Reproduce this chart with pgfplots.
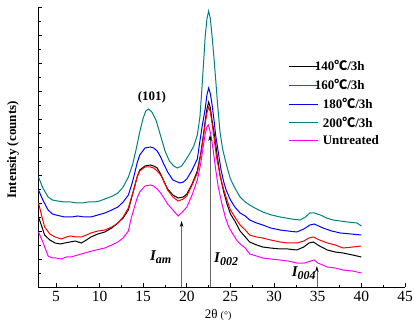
\documentclass[border=0pt]{standalone}
\usepackage{pgfplots}
\pgfplotsset{compat=1.18}
\usepackage{fontspec}
\setmainfont{Liberation Serif}
\newfontfamily\cjk{Noto Sans CJK SC}
\usetikzlibrary{arrows.meta}
\definecolor{tealc}{RGB}{0,128,128}
\definecolor{magc}{RGB}{255,0,255}

\begin{document}
\begin{tikzpicture}
\useasboundingbox (-38.5pt,-39pt) rectangle (375.5pt,287pt);
\begin{axis}[
  at={(0,0)}, anchor=south west,
  scale only axis, width=366.5pt, height=280pt,
  xmin=3, xmax=45, ymin=0, ymax=280,
  axis lines=left, axis line style={-, line width=0.9pt},
  xtick={5,10,...,45}, minor x tick num=1,
  ytick={0,28,...,280}, minor y tick num=1, yticklabels={},
  tick align=inside, major tick length=4pt, minor tick length=2.5pt,
  tick style={black, line width=0.8pt},
  /pgf/number format/assume math mode=true,
  xticklabel style={font=\fontsize{15.5}{15.5}\selectfont, yshift=-1pt},
  xlabel={2θ {\fontsize{10}{10}\selectfont(°)}},
  xlabel style={at={(axis description cs:0.49,0)}, anchor=center, yshift=-28pt, font=\fontsize{13}{13}\selectfont},
  ylabel={Intensity (counts)},
  ylabel style={at={(axis description cs:-0.0696,0.49)}, anchor=center, font=\fontsize{13}{13}\selectfont\bfseries},
  clip=false,
  legend style={at={(axis cs:31.6,228)}, anchor=north west, draw=none, fill=none,
    font=\fontsize{13}{13}\selectfont\bfseries, row sep=4pt, inner sep=0pt, nodes={inner sep=1.5pt}},
  legend cell align=left,
  legend image code/.code={\draw[#1, line width=1pt] (0pt,0pt) -- (29pt,0pt);},
  every axis plot/.append style={line width=1pt},
]
% 140 C / 3h (black)
\addplot[black] coordinates {
(3.0,70) (3.4,60) (3.7,52) (4.3,47) (4.9,44) (5.5,43) (6.0,44) (6.6,45) (7.2,46) (7.9,44) (8.5,47) (9.0,50) (9.8,53) (10.6,55) (11.4,59) (12.1,64) (12.7,69) (13.3,77) (13.6,87) (14.0,100) (14.3,110) (14.6,117) (15.2,121) (15.8,122) (16.2,121) (16.6,119) (17.0,113) (17.3,107) (17.8,98) (18.4,92) (19.0,89) (19.6,90) (20.0,93) (20.6,103) (21.2,116) (21.6,134) (21.9,152) (22.1,166) (22.3,178) (22.5,185) (22.7,179) (22.9,166) (23.2,150) (23.5,130) (23.8,112) (24.2,96) (24.6,83) (25.0,73) (25.5,66) (26.1,56) (26.7,50) (27.2,45) (28.0,42) (28.7,40) (29.6,39) (30.7,38) (31.6,38) (32.6,37) (33.4,40) (34.0,44) (34.5,45) (35.2,41) (36.1,37) (37.0,35) (37.9,34) (39.0,32) (40.0,30)};
\addlegendentry{\hspace{-5pt}140{\cjk ℃}/3h}
% 160 C / 3h (red)
\addplot[red] coordinates {
(3.0,84) (3.4,70) (3.7,60) (4.3,53) (4.9,50) (5.6,48) (6.2,50) (6.7,51) (7.3,50) (7.9,50) (8.5,52) (9.0,54) (9.8,56) (10.6,57) (11.4,60) (12.1,64) (12.7,70) (13.3,79) (13.6,88) (14.0,100) (14.3,110) (14.6,116) (15.2,120) (15.8,120) (16.2,119) (16.6,116) (17.0,112) (17.3,107) (17.8,97) (18.4,90) (19.0,86) (19.6,88) (20.0,91) (20.6,102) (21.2,114) (21.6,132) (21.9,150) (22.1,163) (22.3,174) (22.5,180) (22.7,175) (22.9,163) (23.1,150) (23.4,130) (23.8,112) (24.2,98) (24.6,87) (25.0,77) (25.5,70) (26.1,62) (26.7,57) (27.2,52) (28.0,50) (28.7,49) (29.6,47) (30.7,45) (31.6,44) (32.6,44) (33.4,46) (34.0,49) (34.5,50) (35.2,47) (36.1,44) (37.0,42) (37.9,39) (39.0,40) (40.0,41)};
\addlegendentry{\hspace{-5pt}160{\cjk ℃}/3h}
% 180 C / 3h (blue)
\addplot[blue] coordinates {
(3.0,97) (3.5,87) (4.1,77) (4.6,73) (5.0,72) (6.0,70) (6.8,70) (7.5,71) (8.2,70) (9.0,70) (9.8,72) (10.6,74) (11.4,77) (12.1,80) (12.7,85) (13.3,92) (13.7,103) (14.0,113) (14.3,124) (14.6,132) (15.2,139) (15.8,140) (16.2,139) (16.6,136) (17.0,130) (17.3,124) (17.8,115) (18.4,107) (19.2,104) (19.6,105) (20.0,108) (20.6,117) (21.2,128) (21.5,146) (21.8,163) (22.1,178) (22.3,192) (22.5,199) (22.7,193) (22.9,182) (23.1,168) (23.3,152) (23.6,135) (23.9,118) (24.2,106) (24.5,97) (25.0,87) (25.5,80) (26.1,74) (26.7,71) (27.2,67) (28.0,64) (28.7,62) (29.6,59) (30.7,57) (31.6,56) (32.6,55) (33.4,58) (34.1,62) (34.6,63) (35.6,59) (36.6,56) (37.6,54) (38.8,53) (40.0,52)};
\addlegendentry{\hspace{3pt}180{\cjk ℃}/3h}
% 200 C / 3h (teal)
\addplot[tealc] coordinates {
(3.0,110) (3.5,99) (4.1,90) (4.6,87) (5.2,86) (6.0,85) (6.7,85) (7.4,84) (8.0,84) (8.7,85) (9.4,85) (10.0,86) (10.6,88) (11.5,91) (12.1,94) (12.7,100) (13.3,110) (13.8,123) (14.2,138) (14.6,155) (15.0,169) (15.3,176) (15.6,178) (16.0,175) (16.5,166) (17.0,151) (17.5,136) (18.0,126) (18.5,121) (18.9,119) (19.4,121) (19.8,126) (20.3,133) (20.8,141) (21.2,152) (21.5,170) (21.7,195) (21.9,222) (22.1,250) (22.3,268) (22.5,276) (22.7,268) (22.9,250) (23.1,230) (23.3,208) (23.5,185) (23.8,155) (24.1,138) (24.4,127) (24.7,117) (25.0,108) (25.5,99) (26.1,90) (26.7,85) (27.2,82) (28.0,78) (28.7,75) (29.7,72) (30.7,70) (32.0,68) (33.0,67) (33.6,70) (34.1,74) (34.6,74) (35.3,72) (36.0,69) (36.75,67) (37.6,66) (38.4,65) (39.5,64) (40.0,61)};
\addlegendentry{\hspace{3pt}200{\cjk ℃}/3h}
% Untreated (magenta)
\addplot[magc] coordinates {
(3.0,55) (3.5,45) (4.1,31) (4.6,29) (5.0,29) (5.6,28) (6.2,30) (6.7,30) (7.5,32) (8.7,35) (9.6,37) (10.6,39) (11.4,42) (12.1,45) (12.7,49) (13.3,56) (13.6,68) (14.0,80) (14.3,89) (14.6,95) (15.2,101) (15.8,102) (16.2,101) (16.6,98) (17.0,94) (17.3,90) (17.8,83) (18.4,77) (19.0,71) (19.6,76) (20.0,80) (20.6,92) (21.2,107) (21.6,124) (21.9,142) (22.1,153) (22.3,160) (22.45,162) (22.6,158) (22.8,150) (23.0,138) (23.3,118) (23.6,100) (24.0,84) (24.4,70) (24.8,60) (25.2,54) (25.7,47) (26.1,43) (26.7,39) (27.2,33) (28.0,31) (28.7,29) (29.6,28) (30.7,27) (31.6,26) (32.6,24) (33.5,24) (34.2,26) (34.6,27) (35.0,24) (35.6,22) (36.1,20) (37.0,19) (37.9,17) (39.0,16) (40.0,14)};
\addlegendentry{\hspace{3pt}Untreated}

% annotations
\node[font=\fontsize{13}{13}\selectfont\bfseries] at (axis cs:16.0,190) {(101)};
\draw[gray!80!black, line width=0.6pt, -{Stealth[black,length=6pt,width=3.5pt]}] (axis cs:19.4,0) -- (axis cs:19.4,66);
\draw[gray!80!black, line width=0.6pt, -{Stealth[black,length=6pt,width=3.5pt]}] (axis cs:22.66,0) -- (axis cs:22.66,152);
\draw[gray!80!black, line width=0.6pt, -{Stealth[black,length=6pt,width=3.5pt]}] (axis cs:34.9,0) -- (axis cs:34.9,21);
\node[font=\fontsize{15}{15}\selectfont\bfseries\itshape] at (axis cs:17.0,30) {I\raisebox{-3pt}{\fontsize{12}{12}\selectfont am}};
\node[font=\fontsize{15}{15}\selectfont\bfseries\itshape] at (axis cs:24.5,28) {I\raisebox{-3pt}{\fontsize{12}{12}\selectfont 002}};
\node[font=\fontsize{15}{15}\selectfont\bfseries\itshape] at (axis cs:33.4,14) {I\raisebox{-3pt}{\fontsize{12}{12}\selectfont 004}};
\end{axis}
\end{tikzpicture}
\end{document}
